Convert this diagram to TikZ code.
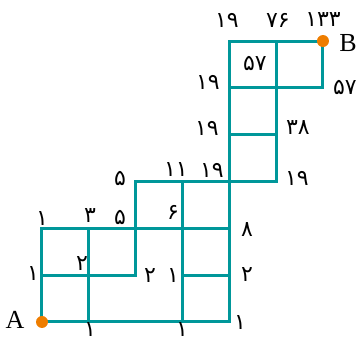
\documentclass[tikz,border=0pt]{standalone}
\usepackage{fontspec}
\setmainfont{Liberation Serif}
\newfontfamily\fadigits{DejaVu Sans}
\definecolor{gridteal}{HTML}{00979A}
\definecolor{dotorange}{HTML}{EE7D00}
\tikzset{
  gridline/.style={draw=gridteal, line width=3pt, line cap=rect},
  lab/.style={inner sep=0pt, font=\fadigits\fontsize{22}{22}\selectfont},
  endlab/.style={inner sep=0pt, font=\fontsize{26}{26}\selectfont},
  enddot/.style={circle, fill=dotorange, minimum size=12pt, inner sep=0pt}
}
\begin{document}
\begin{tikzpicture}[x=46.83pt,y=46.83pt]
\useasboundingbox (-42pt,-20pt) rectangle (315pt,322pt);
\foreach \i in {0,...,6}{\foreach \j in {0,...,6}{\coordinate (p-\i-\j) at (\i,\j);}}
% grid lines
\draw[gridline] (p-0-0) -- (p-4-0);
\draw[gridline] (p-0-0) -- (p-0-2);
\draw[gridline] (p-1-0) -- (p-1-2);
\draw[gridline] (p-0-1) -- (p-2-1) -- (p-2-3);
\draw[gridline] (p-0-2) -- (p-4-2);
\draw[gridline] (p-3-0) -- (p-3-3);
\draw[gridline] (p-4-0) -- (p-4-6);
\draw[gridline] (p-3-1) -- (p-4-1);
\draw[gridline] (p-2-3) -- (p-5-3);
\draw[gridline] (p-5-3) -- (p-5-6);
\draw[gridline] (p-4-4) -- (p-5-4);
\draw[gridline] (p-4-5) -- (p-6-5) -- (p-6-6);
\draw[gridline] (p-4-6) -- (p-6-6);
% end points
\node[enddot] (dA) at (p-0-0) {};
\node[enddot] (dB) at (p-6-6) {};
\node[endlab] (A) at (-27pt,2pt) {A};
\node[endlab] (B) at (306pt,279pt) {B};
% numbers
\node[lab] (n1) at (185pt,302pt) {۱۹};
\node[lab] (n2) at (236pt,302pt) {۷۶};
\node[lab] (n3) at (281pt,302pt) {۱۳۳};
\node[lab] (n4) at (166pt,240pt) {۱۹};
\node[lab] (n5) at (213pt,259pt) {۵۷};
\node[lab] (n6) at (303pt,235pt) {۵۷};
\node[lab] (n7) at (165pt,194pt) {۱۹};
\node[lab] (n8) at (256pt,194pt) {۳۸};
\node[lab] (n9) at (170pt,152pt) {۱۹};
\node[lab] (n10) at (255pt,144pt) {۱۹};
\node[lab] (n11) at (134pt,152pt) {۱۱};
\node[lab] (n12) at (78pt,144pt) {۵};
\node[lab] (n13) at (78pt,105pt) {۵};
\node[lab] (n14) at (48pt,106pt) {۳};
\node[lab] (n15) at (0pt,103pt) {۱};
\node[lab] (n16) at (131pt,110pt) {۶};
\node[lab] (n17) at (205pt,92pt) {۸};
\node[lab] (n18) at (40pt,58pt) {۲};
\node[lab] (n19) at (-9pt,48pt) {۱};
\node[lab] (n20) at (108pt,46pt) {۲};
\node[lab] (n21) at (131pt,46pt) {۱};
\node[lab] (n22) at (205pt,47pt) {۲};
\node[lab] (n23) at (48pt,-8pt) {۱};
\node[lab] (n24) at (140pt,-8pt) {۱};
\node[lab] (n25) at (198pt,-1pt) {۱};
\end{tikzpicture}
\end{document}
